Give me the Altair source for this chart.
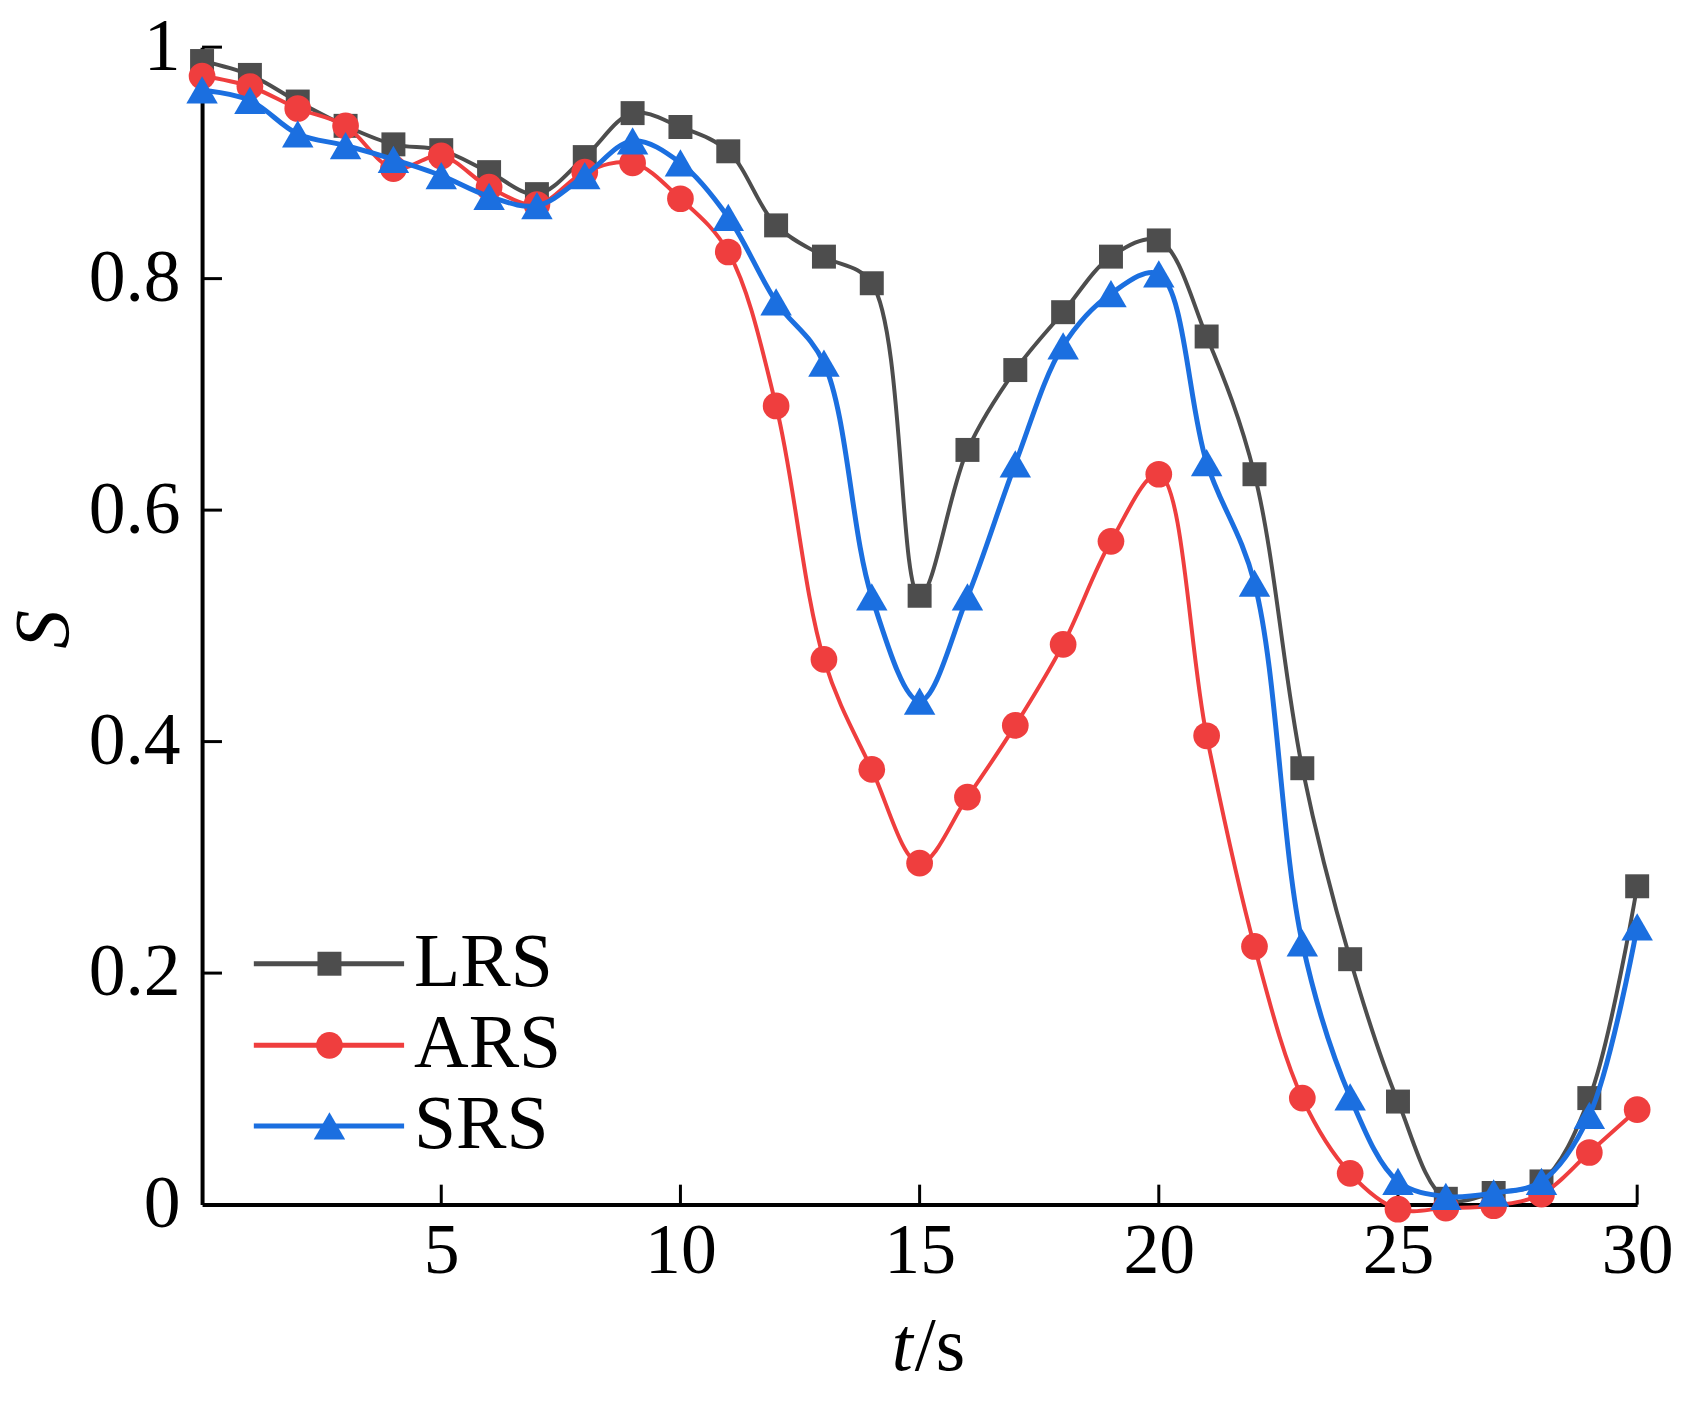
import altair as alt
import pandas as pd

# ---- data ----
t_values = list(range(31))
series_names = ["LRS", "ARS", "SRS"]
lrs = [0.988, 0.976, 0.953, 0.932, 0.916, 0.911, 0.892, 0.873, 0.905, 0.943,
       0.931, 0.910, 0.846, 0.819, 0.796, 0.526, 0.652, 0.721, 0.771, 0.819,
       0.833, 0.750, 0.631, 0.377, 0.212, 0.089, 0.005, 0.010, 0.020, 0.092,
       0.275]
ars = [0.975, 0.966, 0.947, 0.932, 0.895, 0.906, 0.879, 0.864, 0.892, 0.900,
       0.869, 0.823, 0.690, 0.471, 0.376, 0.295, 0.352, 0.414, 0.484, 0.573,
       0.631, 0.405, 0.223, 0.092, 0.027, -0.004, -0.003, -0.001, 0.009, 0.045,
       0.082]
srs = [0.963, 0.954, 0.925, 0.915, 0.903, 0.889, 0.871, 0.863, 0.889, 0.919,
       0.900, 0.853, 0.780, 0.727, 0.525, 0.435, 0.525, 0.640, 0.742, 0.787,
       0.804, 0.641, 0.537, 0.226, 0.093, 0.020, 0.007, 0.010, 0.020, 0.077,
       0.240]
series_values = [lrs, ars, srs]
colors = ["#4d4d4d", "#ef3e3e", "#1b6fe0"]
shapes = ["square", "circle", "triangle-up"]
sizes = [580, 720, 1000]
line_widths = [4.0, 4.0, 5.0]
x_tick_values = [5, 10, 15, 20, 25, 30]
y_tick_values = [0, 0.2, 0.4, 0.6, 0.8, 1.0]
x_title_parts = ["t", "/s"]
y_title = "S"

# ---- layout ----
W, H = 1442, 1163
FONT = "Liberation Serif"
FS = 72
TICK = 20

xscale = alt.Scale(domain=[0, 30], nice=False, zero=False)
yscale = alt.Scale(domain=[0, 1], nice=False, zero=False)
xaxis = alt.Axis(values=x_tick_values, title=None, ticks=False, grid=False,
                 labelFont=FONT, labelFontSize=FS, labelColor="black",
                 labelPadding=11, domainColor="black", domainWidth=4,
                 labelFlush=False, labelOverlap=False)
yaxis = alt.Axis(values=y_tick_values, format="~g", title=None, ticks=False,
                 grid=False, labelFont=FONT, labelFontSize=FS + 2,
                 labelColor="black", labelPadding=22, domainColor="black",
                 domainWidth=4, labelFlush=False, labelOverlap=False)

layers = []

# inward ticks
xt = alt.Chart(pd.DataFrame({"t": x_tick_values})).mark_rule(
    color="black", strokeWidth=3).encode(
    x=alt.X("t:Q", scale=xscale, axis=xaxis),
    y=alt.value(H), y2=alt.value(H - TICK))
yt = alt.Chart(pd.DataFrame({"S": y_tick_values[1:]})).mark_rule(
    color="black", strokeWidth=3).encode(
    y=alt.Y("S:Q", scale=yscale, axis=yaxis),
    x=alt.value(0), x2=alt.value(TICK))
layers += [xt, yt]

# series: line then markers, gray first, blue on top
for name, vals, c, shp, sz, lw in zip(series_names, series_values, colors,
                                      shapes, sizes, line_widths):
    df = pd.DataFrame({"t": t_values, "S": vals, "series": name})
    base = alt.Chart(df).encode(
        x=alt.X("t:Q", scale=xscale, axis=xaxis),
        y=alt.Y("S:Q", scale=yscale, axis=yaxis))
    layers.append(base.mark_line(interpolate="catmull-rom", color=c,
                                 strokeWidth=lw))
    layers.append(base.mark_point(shape=shp, filled=True, size=sz, color=c,
                                  opacity=1))

# manual legend
legend_rows = [921, 1003, 1084]
for name, c, shp, sz, ry in zip(series_names, colors, shapes, sizes,
                                legend_rows):
    ldf = pd.DataFrame({"series": [name]})
    lb = alt.Chart(ldf)
    layers.append(lb.mark_rule(color=c, strokeWidth=5).encode(
        x=alt.value(52), x2=alt.value(203), y=alt.value(ry)))
    layers.append(lb.mark_point(shape=shp, filled=True, size=sz, color=c,
                                opacity=1).encode(
        x=alt.value(128), y=alt.value(ry)))
    layers.append(lb.mark_text(font=FONT, fontSize=76, align="left",
                               baseline="alphabetic", color="black").encode(
        x=alt.value(213), y=alt.value(ry + 22), text="series:N"))

# axis titles
tdf = pd.DataFrame({"txt": [x_title_parts[0]]})
layers.append(alt.Chart(tdf).mark_text(
    font=FONT, fontSize=76, fontStyle="italic", align="right",
    baseline="alphabetic", color="black").encode(
    x=alt.value(714), y=alt.value(1329), text="txt:N"))
sdf = pd.DataFrame({"txt": [x_title_parts[1]]})
layers.append(alt.Chart(sdf).mark_text(
    font=FONT, fontSize=76, align="left",
    baseline="alphabetic", color="black").encode(
    x=alt.value(716), y=alt.value(1329), text="txt:N"))
ydf = pd.DataFrame({"txt": [y_title]})
layers.append(alt.Chart(ydf).mark_text(
    font=FONT, fontSize=78, fontStyle="italic", align="center",
    baseline="middle", angle=270, color="black").encode(
    x=alt.value(-158), y=alt.value(585), text="txt:N"))

chart = alt.layer(*layers).properties(
    width=W, height=H,
    padding={"left": 195, "top": 36, "right": 36, "bottom": 185},
    autosize=alt.AutoSizeParams(type="none"),
).configure_view(stroke=None)

chart.save("out.html", embed_options={"renderer": "svg", "actions": False})
